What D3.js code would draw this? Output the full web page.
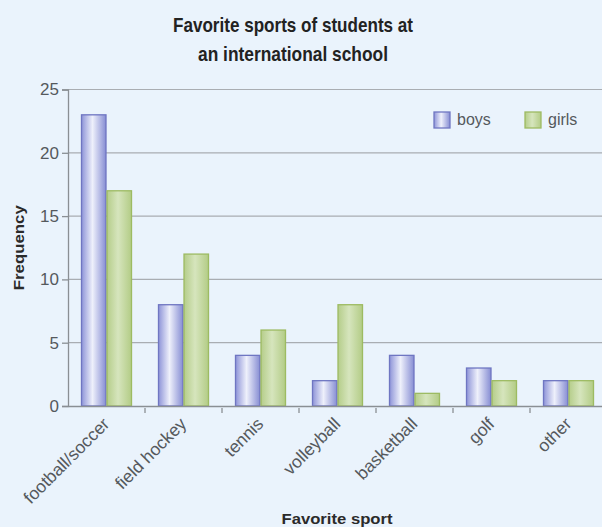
<!DOCTYPE html>
<html>
<head>
<meta charset="utf-8">
<script src="https://cdn.jsdelivr.net/npm/d3@7"></script>
<style>
  html, body { margin: 0; padding: 0; background: #eaf3fc; }
  svg { display: block; }
</style>
</head>
<body>
<svg id="chart"></svg>
<script>
const sports = ["football/soccer", "field hockey", "tennis", "volleyball", "basketball", "golf", "other"];
const boys = [23, 8, 4, 2, 4, 3, 2];
const girls = [17, 12, 6, 8, 1, 2, 2];
const seriesNames = ["boys", "girls"];
const yTicks = [0, 5, 10, 15, 20, 25];

const width = 602, height = 527;
const margin = {top: 89.5, right: -5, bottom: 121, left: 68};
const innerW = width - margin.left - margin.right;
const innerH = height - margin.top - margin.bottom;
const sans = "'Liberation Sans', Arial, Helvetica, sans-serif";

const svg = d3.select("#chart").attr("width", width).attr("height", height);
svg.append("rect").attr("width", width).attr("height", height).attr("fill", "#eaf3fc");

const defs = svg.append("defs");
const gradBoys = defs.append("linearGradient").attr("id", "gBoys").attr("x1", "0%").attr("x2", "100%");
gradBoys.append("stop").attr("offset", "0%").attr("stop-color", "#8e94d8");
gradBoys.append("stop").attr("offset", "45%").attr("stop-color", "#eef0fb");
gradBoys.append("stop").attr("offset", "100%").attr("stop-color", "#868dd3");
const gradGirls = defs.append("linearGradient").attr("id", "gGirls").attr("x1", "0%").attr("x2", "100%");
gradGirls.append("stop").attr("offset", "0%").attr("stop-color", "#b5cd8a");
gradGirls.append("stop").attr("offset", "45%").attr("stop-color", "#d6e5bd");
gradGirls.append("stop").attr("offset", "100%").attr("stop-color", "#b3cc86");

const fills = {boys: "url(#gBoys)", girls: "url(#gGirls)"};
const strokes = {boys: "#6f76c2", girls: "#9dbb62"};

const g = svg.append("g").attr("transform", `translate(${margin.left},${margin.top})`);

const x = d3.scaleBand().domain(sports).range([0, innerW]).paddingInner(0).paddingOuter(0);
const xSub = d3.scaleBand().domain(seriesNames).range([13, x.bandwidth() - 13]);
const y = d3.scaleLinear().domain([0, 25]).range([innerH, 0]);

// gridlines
g.append("g").selectAll("line").data(yTicks.filter(d => d > 0)).join("line")
  .attr("x1", 0).attr("x2", innerW)
  .attr("y1", d => y(d)).attr("y2", d => y(d))
  .attr("stroke", "#a9adb2").attr("stroke-width", 1.2);

// bars
const data = sports.map((s, i) => ({sport: s, boys: boys[i], girls: girls[i]}));
const groups = g.append("g").selectAll("g").data(data).join("g")
  .attr("transform", d => `translate(${x(d.sport)},0)`);
groups.selectAll("rect").data(d => seriesNames.map(k => ({key: k, value: d[k]}))).join("rect")
  .attr("x", d => xSub(d.key) + 0.5)
  .attr("width", xSub.bandwidth() - 1)
  .attr("y", d => y(d.value))
  .attr("height", d => innerH - y(d.value))
  .attr("fill", d => fills[d.key])
  .attr("stroke", d => strokes[d.key])
  .attr("stroke-width", 1.3);

// y axis
const yAxis = g.append("g")
  .call(d3.axisLeft(y).tickValues(yTicks).tickSize(6).tickPadding(3));
yAxis.select(".domain").attr("stroke", "#8a8f94").attr("stroke-width", 1.3);
yAxis.selectAll(".tick line").attr("stroke", "#8a8f94").attr("stroke-width", 1.3);
yAxis.selectAll(".tick text")
  .attr("fill", "#55595d")
  .style("font-family", sans)
  .style("font-size", "17px");

// x axis
const xAxis = g.append("g").attr("transform", `translate(0,${innerH})`)
  .call(d3.axisBottom(x).tickSize(0).tickPadding(0));
xAxis.select(".domain").attr("stroke", "#8a8f94").attr("stroke-width", 1.3);
xAxis.selectAll(".tick text")
  .attr("fill", "#55595d")
  .style("font-family", sans)
  .style("font-size", "17.5px")
  .attr("text-anchor", "end")
  .attr("x", 0).attr("y", 0)
  .attr("dy", 0)
  .attr("transform", "translate(4,19) rotate(-45)");
// boundary ticks
g.append("g").selectAll("line").data(sports.slice(1)).join("line")
  .attr("x1", d => x(d)).attr("x2", d => x(d))
  .attr("y1", innerH + 2).attr("y2", innerH + 7)
  .attr("stroke", "#8a8f94").attr("stroke-width", 1.3);

// title
const title = svg.append("text")
  .attr("text-anchor", "middle")
  .attr("fill", "#222")
  .style("font-family", sans)
  .style("font-weight", "bold")
  .style("font-size", "21px");
title.append("tspan").attr("x", 293).attr("y", 32)
  .attr("textLength", 240).attr("lengthAdjust", "spacingAndGlyphs")
  .text("Favorite sports of students at");
title.append("tspan").attr("x", 293).attr("y", 61)
  .attr("textLength", 190).attr("lengthAdjust", "spacingAndGlyphs")
  .text("an international school");

// axis titles
svg.append("text")
  .attr("transform", `translate(24,${margin.top + innerH / 2}) rotate(-90)`)
  .attr("text-anchor", "middle")
  .attr("fill", "#2a2a2a")
  .style("font-family", sans)
  .style("font-weight", "bold")
  .style("font-size", "15px")
  .attr("textLength", 85).attr("lengthAdjust", "spacingAndGlyphs")
  .text("Frequency");
svg.append("text")
  .attr("x", 337).attr("y", 524)
  .attr("text-anchor", "middle")
  .attr("fill", "#2a2a2a")
  .style("font-family", sans)
  .style("font-weight", "bold")
  .style("font-size", "15px")
  .attr("textLength", 111).attr("lengthAdjust", "spacingAndGlyphs")
  .text("Favorite sport");

// legend
const legendX = [434, 525];
const legend = svg.append("g").selectAll("g").data(seriesNames).join("g")
  .attr("transform", (d, i) => `translate(${legendX[i]},112)`);
legend.append("rect")
  .attr("width", 16).attr("height", 16)
  .attr("fill", d => fills[d]).attr("stroke", d => strokes[d]).attr("stroke-width", 1.3);
legend.append("text")
  .attr("x", 23).attr("y", 13)
  .attr("fill", "#55595d")
  .style("font-family", sans)
  .style("font-size", "16px")
  .text(d => d);
</script>
</body>
</html>
